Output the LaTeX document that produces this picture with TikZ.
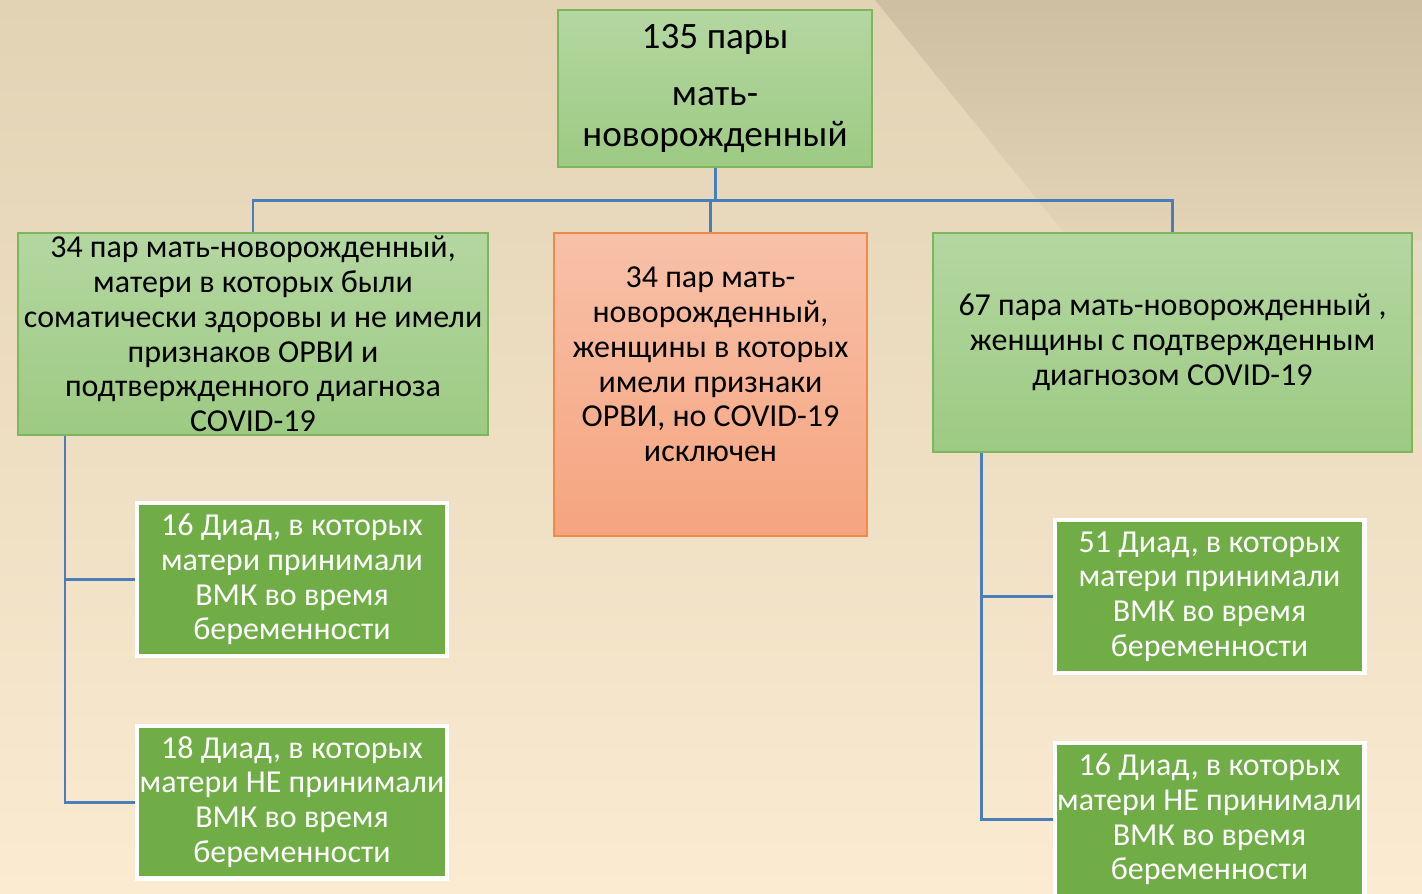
\documentclass[tikz,border=0pt]{standalone}
\usepackage{fontspec}
\setmainfont{Carlito}
\usepackage{xcolor}
\usepackage{tikz}
\usetikzlibrary{positioning,calc}
\definecolor{czelsv}{HTML}{B4D7A1}
\definecolor{czelt}{HTML}{9DCA83}
\definecolor{czelr}{HTML}{7DB65C}
\definecolor{clososv}{HTML}{F8C1A9}
\definecolor{closot}{HTML}{F5A47E}
\definecolor{closor}{HTML}{EE8A4C}
\definecolor{czeltm}{HTML}{70AD47}
\definecolor{csin}{HTML}{4A7EBB}
\definecolor{cfonv}{HTML}{E2D3B5}
\definecolor{cfonn}{HTML}{FAEBD1}
\definecolor{cten}{HTML}{C6B69A}
\tikzset{
  blok/.style={rectangle, draw=czelr, line width=1.1pt, top color=czelsv, bottom color=czelt,
    align=center, inner sep=0pt, font=\fontsize{18.2}{19.8}\selectfont},
  bloko/.style={rectangle, draw=closor, line width=1.1pt, top color=clososv, bottom color=closot,
    inner sep=0pt},
  blokt/.style={rectangle, draw=white, line width=2.3pt, fill=czeltm, text=white,
    minimum width=6.2cm, minimum height=3.06cm, align=center, inner sep=0pt,
    font=\fontsize{18.2}{19.8}\selectfont},
  liniya/.style={draw=csin, line width=1.7pt},
}

\begin{document}
\begin{tikzpicture}[x=0.02cm, y=-0.02cm]
  % fon
  \shade[top color=cfonv, bottom color=cfonn] (0,0) rectangle (1422,893);
  \shade[top color=cten, bottom color=cfonv, fill opacity=0.7]
    (875,0) -- (1422,0) -- (1422,240) -- (1070,240) -- cycle;
  \useasboundingbox (0,0) rectangle (1422,893);

  % verkh
  \node[blok, minimum width=6.28cm, minimum height=3.14cm,
    font=\fontsize{21.2}{23.2}\selectfont] (para) at (715,88.5)
    {135 пары\\[9pt]мать-\\новорожденный};

  % tri gruppy
  \node[blok, minimum width=9.4cm, minimum height=4.04cm] (zdor) at (253,334)
    {34 пар мать-новорожденный,\\матери в которых были\\соматически здоровы и не имели\\признаков ОРВИ и\\подтвержденного диагноза\\COVID-19};
  \node[bloko, minimum width=6.26cm, minimum height=6.06cm] (orvi) at (710.5,384.5) {};
  \node[align=center, font=\fontsize{18.2}{19.8}\selectfont] (orvit) at ([yshift=0.4cm]orvi.center)
    {34 пар мать-\\новорожденный,\\женщины в которых\\имели признаки\\ОРВИ, но COVID-19\\исключен};
  \node[blok, minimum width=9.58cm, minimum height=4.38cm] (covid) at (1172.5,342.5)
    {67 пара мать-новорожденный ,\\женщины с подтвержденным\\диагнозом COVID-19};

  % diady
  \node[blokt] (zdor1) at (292,579.5) {16 Диад, в которых\\матери принимали\\ВМК во время\\беременности};
  \node[blokt] (zdor2) at (292,802) {18 Диад, в которых\\матери НЕ принимали\\ВМК во время\\беременности};
  \node[blokt] (covid1) at (1209.5,596.5) {51 Диад, в которых\\матери принимали\\ВМК во время\\беременности};
  \node[blokt] (covid2) at (1209.5,819.5) {16 Диад, в которых\\матери НЕ принимали\\ВМК во время\\беременности};

  % linii
  \coordinate (shina) at (0,200);
  \coordinate (osl) at (65,0);
  \coordinate (osp) at (981,0);
  \draw[liniya] (zdor.north) -- (zdor.north |- shina) -- (covid.north |- shina) -- (covid.north);
  \draw[liniya] (para.south) -- (para.south |- shina);
  \draw[liniya] (orvi.north) -- (orvi.north |- shina);
  \draw[liniya] (zdor.south -| osl) |- (zdor1.west);
  \draw[liniya] (zdor.south -| osl) |- (zdor2.west);
  \draw[liniya] (covid.south -| osp) |- (covid1.west);
  \draw[liniya] (covid.south -| osp) |- (covid2.west);
\end{tikzpicture}
\end{document}
